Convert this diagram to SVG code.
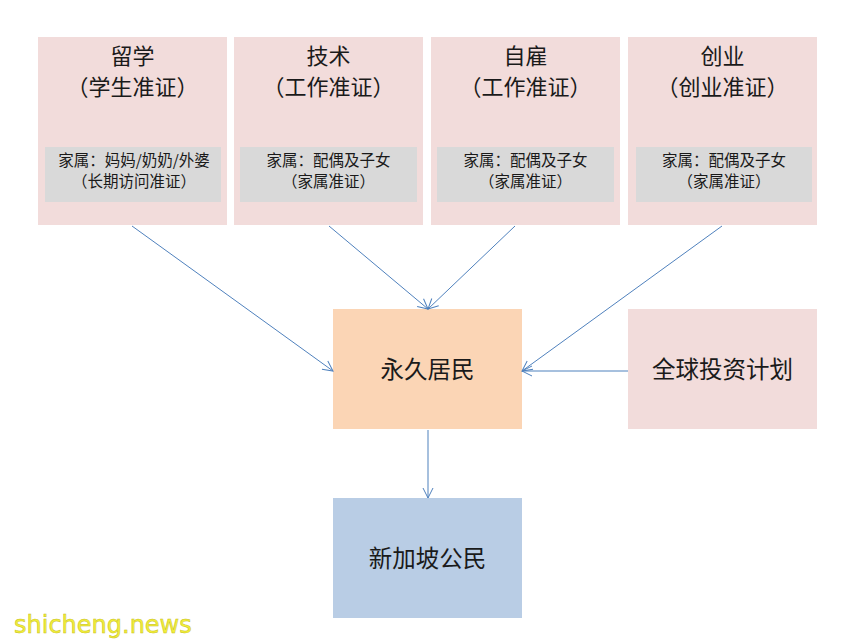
<svg xmlns="http://www.w3.org/2000/svg" width="857" height="644" viewBox="0 0 857 644">
<defs>
<style>
.pink{fill:#f2dcdb}
.gray{fill:#d9d9d9}
.t{font-family:"Noto Sans CJK SC","Liberation Sans",sans-serif;fill:#1a1a1a;text-anchor:middle}
.big{font-size:22px}
.sm{font-size:15.5px}
.mid{font-size:23.5px}
.conn{stroke:#4f81bd;stroke-width:1;fill:none;marker-end:url(#arr)}
</style>
<marker id="arr" viewBox="0 0 12 12" refX="11" refY="6" markerWidth="12" markerHeight="12" markerUnits="userSpaceOnUse" orient="auto">
<path d="M1,1 L11,6 L1,11" fill="none" stroke="#4f81bd" stroke-width="1"/>
</marker>
</defs>
<rect width="857" height="644" fill="#ffffff"/>
<g id="node-liuxue">
<rect class="pink" x="38" y="37" width="189" height="188"/>
<text class="t big" x="132.5" y="64">留学</text>
<text class="t big" x="132.5" y="95">（学生准证）</text>
<rect class="gray" x="45" y="147" width="176" height="55"/>
<text class="t sm" x="134" y="166">家属：妈妈/奶奶/外婆</text>
<text class="t sm" x="134" y="187">（长期访问准证）</text>
</g>
<g id="node-jishu">
<rect class="pink" x="234" y="37" width="189" height="188"/>
<text class="t big" x="328.5" y="64">技术</text>
<text class="t big" x="328.5" y="95">（工作准证）</text>
<rect class="gray" x="240" y="147" width="177" height="55"/>
<text class="t sm" x="328.5" y="166">家属：配偶及子女</text>
<text class="t sm" x="328.5" y="187">（家属准证）</text>
</g>
<g id="node-zigu">
<rect class="pink" x="431" y="37" width="189" height="188"/>
<text class="t big" x="525.5" y="64">自雇</text>
<text class="t big" x="525.5" y="95">（工作准证）</text>
<rect class="gray" x="437" y="147" width="177" height="55"/>
<text class="t sm" x="525.5" y="166">家属：配偶及子女</text>
<text class="t sm" x="525.5" y="187">（家属准证）</text>
</g>
<g id="node-chuangye">
<rect class="pink" x="628" y="37" width="189" height="188"/>
<text class="t big" x="722.5" y="64">创业</text>
<text class="t big" x="722.5" y="95">（创业准证）</text>
<rect class="gray" x="636" y="147" width="176" height="55"/>
<text class="t sm" x="724" y="166">家属：配偶及子女</text>
<text class="t sm" x="724" y="187">（家属准证）</text>
</g>
<g id="node-pr">
<rect x="333" y="309" width="189" height="120" fill="#fbd5b5"/>
<text class="t mid" x="427.5" y="378">永久居民</text>
</g>
<g id="node-gip">
<rect class="pink" x="628" y="309" width="189" height="120"/>
<text class="t mid" x="722.5" y="378">全球投资计划</text>
</g>
<g id="node-citizen">
<rect x="333" y="498" width="189" height="120" fill="#b9cde5"/>
<text class="t mid" x="427.5" y="567">新加坡公民</text>
</g>
<g id="connectors">
<line class="conn" x1="132" y1="226" x2="333" y2="371"/>
<line class="conn" x1="329" y1="226" x2="428" y2="309"/>
<line class="conn" x1="515" y1="226" x2="428" y2="309"/>
<line class="conn" x1="722" y1="226" x2="522" y2="371"/>
<line class="conn" x1="628" y1="371" x2="522" y2="371"/>
<line class="conn" x1="428" y1="430" x2="428" y2="498"/>
</g>
<text x="14" y="633" font-family="'DejaVu Sans',sans-serif" font-size="24" fill="#f2ef3a" stroke="#c8c020" stroke-width="0.5">shicheng.news</text>
</svg>
